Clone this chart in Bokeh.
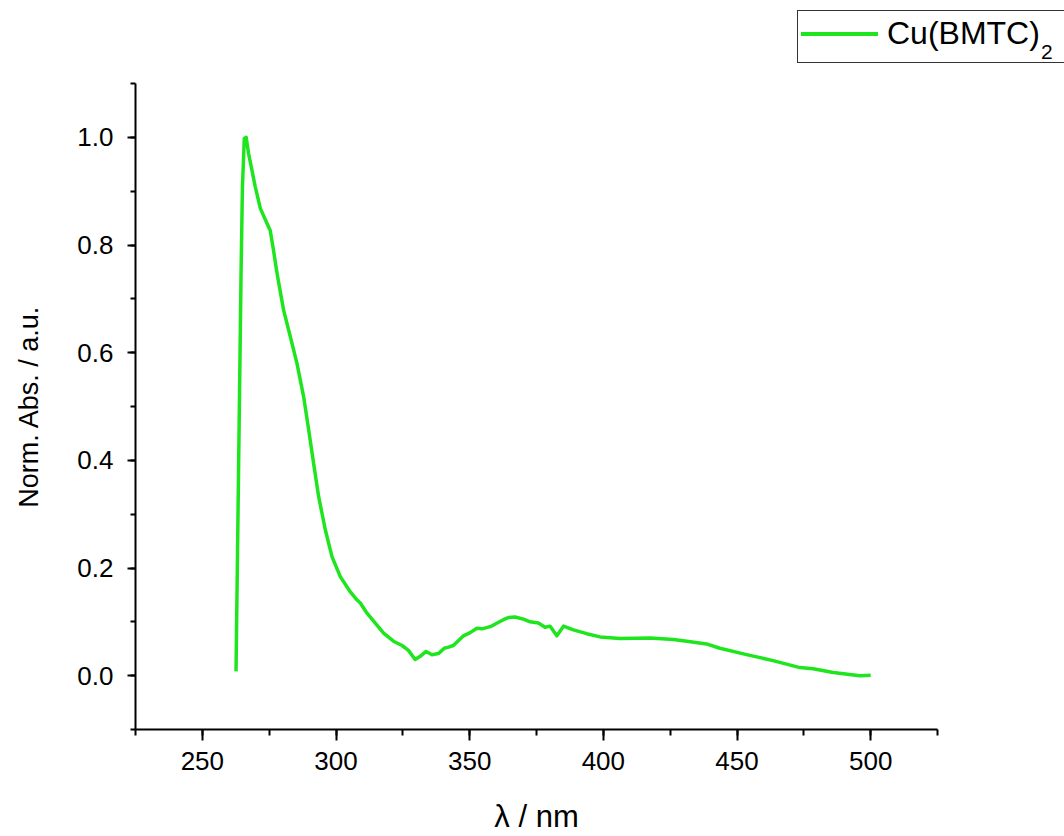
from bokeh.plotting import figure
from bokeh.layouts import column
from bokeh.models import Range1d, SingleIntervalTicker, PrintfTickFormatter, Div
from bokeh.embed import file_html
from bokeh.resources import INLINE

# Normalised UV-Vis absorption spectrum of Cu(BMTC)2
wavelength = [262.6, 264.5, 265.0, 265.7, 266.4, 267.3, 269.8, 271.7, 274.2, 275.4,
              276.7, 277.7, 278.6, 280.4, 282.9, 285.4, 287.9, 289.8, 291.6, 293.5,
              296.0, 298.5, 301.6, 305.3, 307.8, 309.1, 311.6, 317.8, 321.5, 324.7,
              327.1, 329.6, 331.5, 333.7, 335.9, 338.3, 340.5, 342.1, 343.9, 347.7,
              350.2, 352.7, 354.6, 357.7, 362.6, 364.5, 367.0, 370.1, 372.6, 375.7,
              378.2, 380.1, 382.6, 385.1, 388.8, 393.8, 398.8, 406.2, 417.5, 426.2,
              431.2, 438.6, 443.6, 453.6, 463.5, 473.5, 478.5, 486.0, 495.9, 500.0]
absorbance = [0.008, 0.753, 0.907, 0.998, 1.000, 0.970, 0.908, 0.868, 0.840, 0.827,
              0.788, 0.755, 0.729, 0.679, 0.630, 0.580, 0.518, 0.456, 0.395, 0.333,
              0.271, 0.221, 0.184, 0.156, 0.141, 0.135, 0.116, 0.079, 0.064, 0.056,
              0.047, 0.030, 0.036, 0.045, 0.039, 0.041, 0.051, 0.053, 0.056, 0.074,
              0.080, 0.088, 0.087, 0.091, 0.104, 0.108, 0.109, 0.105, 0.100, 0.098,
              0.090, 0.092, 0.074, 0.092, 0.085, 0.078, 0.072, 0.069, 0.070, 0.067,
              0.064, 0.059, 0.051, 0.039, 0.028, 0.015, 0.013, 0.006, 0.000, 0.001]
series_base = "Cu(BMTC)"
series_sub = "2"

FONT = "Liberation Sans"
GREEN = "#1fe51f"
LINE_W = 3.5

# --- legend strip above the plot (box runs off the right page edge) ---
legend_html = f"""
<div style="position:relative;width:1064px;height:80px;overflow:hidden;
            font-family:'{FONT}',Arial,sans-serif;background:white;">
  <div style="position:absolute;left:797px;top:10px;width:320px;height:53px;
              border:1px solid #333333;box-sizing:border-box;background:white;">
    <div style="position:absolute;left:3px;top:21px;width:77px;height:{LINE_W}px;
                background:{GREEN};"></div>
    <div style="position:absolute;left:89px;top:4px;font-size:32px;line-height:36px;
                color:black;white-space:nowrap;">{series_base}<span
         style="font-size:21px;position:relative;top:15px;margin-left:1px;">{series_sub}</span></div>
  </div>
</div>
"""
legend_div = Div(text=legend_html, width=1064, height=80, margin=0)

# --- main spectrum plot ---
p = figure(width=1064, height=756, output_backend="svg", toolbar_location=None,
           x_range=Range1d(225, 525), y_range=Range1d(-0.1, 1.1),
           min_border_left=135, min_border_right=127, min_border_top=3,
           min_border_bottom=106, margin=0)
p.outline_line_color = None
p.grid.visible = False

p.line(wavelength, absorbance, line_color=GREEN, line_width=LINE_W,
       line_join="round")

p.xaxis.ticker = SingleIntervalTicker(interval=50, num_minor_ticks=2)
p.yaxis.ticker = SingleIntervalTicker(interval=0.2, num_minor_ticks=2)
p.yaxis.formatter = PrintfTickFormatter(format="%.1f")
p.xaxis.axis_label = "\u03bb / nm"
p.yaxis.axis_label = "Norm. Abs. / a.u."

for ax in (p.xaxis, p.yaxis):
    ax.axis_line_width = 2
    ax.axis_line_color = "black"
    ax.major_tick_line_width = 2
    ax.minor_tick_line_width = 2
    ax.major_tick_in = 0
    ax.minor_tick_in = 0
    ax.major_label_text_font = FONT
    ax.major_label_text_font_size = "26px"
    ax.major_label_text_color = "black"
    ax.axis_label_text_font = FONT
    ax.axis_label_text_font_style = "normal"
    ax.axis_label_text_color = "black"

p.xaxis.major_tick_out = 11
p.xaxis.minor_tick_out = 6
p.yaxis.major_tick_out = 8
p.yaxis.minor_tick_out = 5
p.xaxis.major_label_standoff = 11
p.yaxis.major_label_standoff = 14
p.xaxis.axis_label_text_font_size = "31px"
p.yaxis.axis_label_text_font_size = "27px"
p.xaxis.axis_label_standoff = 26
p.yaxis.axis_label_standoff = 30

layout = column(legend_div, p, spacing=0)
open("out.html", "w").write(file_html(layout, INLINE))
